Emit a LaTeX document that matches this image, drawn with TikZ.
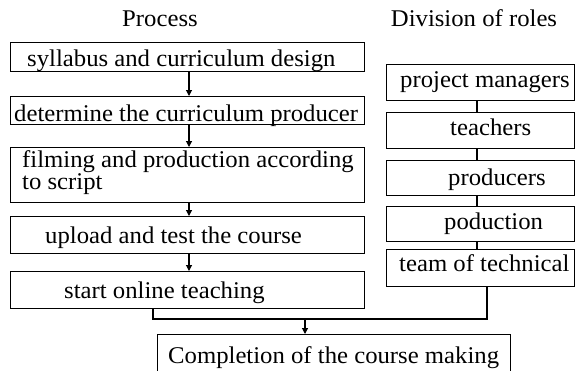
\documentclass[tikz,border=0pt]{standalone}
\usepackage{fontspec}
\setmainfont[FakeStretch=1.03]{Liberation Serif}
\usetikzlibrary{arrows.meta}
\tikzset{
  box/.style={draw, line width=1.1pt, rectangle, anchor=north west, inner sep=0pt},
  txt/.style={anchor=base west, inner sep=0pt, font=\fontsize{24}{22}\selectfont, align=left},
  ttl/.style={anchor=base, inner sep=0pt, font=\fontsize{24}{22}\selectfont},
  arr/.style={line width=1.1pt, -{Triangle[length=6pt,width=6pt]}},
  ln/.style={line width=1.1pt}
}
\begin{document}
\begin{tikzpicture}[x=1pt,y=-1pt]
\useasboundingbox (0,0) rectangle (577,370);
\clip (0,0) rectangle (577,370);
\fill[white] (0,0) rectangle (577,370);
% titles
\node[ttl] (tp) at (160,26.5) {Process};
\node[ttl] (tr) at (474,26.5) {Division of roles};
% process boxes
\node[box, minimum width=354pt, minimum height=29pt] (p1) at (10,42) {};
\node[box, minimum width=354pt, minimum height=28pt] (p2) at (10,96) {};
\node[box, minimum width=354pt, minimum height=55pt] (p3) at (10,147) {};
\node[box, minimum width=354pt, minimum height=37pt] (p4) at (10,216) {};
\node[box, minimum width=354pt, minimum height=37pt] (p5) at (10,271) {};
\node[txt] (t1) at (27,66) {syllabus and curriculum design};
\node[txt] (t2) at (14,121) {determine the curriculum producer};
\node[txt] (t3) at (22,189) {filming and production according\\to script};
\node[txt] (t4) at (45,243) {upload and test the course};
\node[txt] (t5) at (64,298) {start online teaching};
% roles boxes
\node[box, minimum width=188pt, minimum height=36pt] (r1) at (386,64) {};
\node[box, minimum width=188pt, minimum height=36pt] (r2) at (386,112) {};
\node[box, minimum width=188pt, minimum height=35pt] (r3) at (386,160) {};
\node[box, minimum width=188pt, minimum height=35pt] (r4) at (386,206) {};
\node[box, minimum width=188pt, minimum height=37pt] (r5) at (386,249) {};
\node[txt] (s1) at (400,87) {project managers};
\node[txt] (s2) at (450,135) {teachers};
\node[txt] (s3) at (448,185) {producers};
\node[txt] (s4) at (444,229) {poduction};
\node[txt] (s5) at (399,271) {team of technical};
% completion
\node[box, minimum width=353pt, minimum height=45pt] (c) at (157,334) {};
\node[txt] (tc) at (168,363) {Completion of the course making};
% helper coordinates
\coordinate (ax) at (189,0);
\coordinate (rx) at (477,0);
\coordinate (jl) at (153,319);
\coordinate (jr) at (487,319);
\coordinate (jm) at (305,319);
% process arrows
\draw[arr] (p1.south -| ax) -- (p2.north -| ax);
\draw[arr] (p2.south -| ax) -- (p3.north -| ax);
\draw[arr] (p3.south -| ax) -- (p4.north -| ax);
\draw[arr] (p4.south -| ax) -- (p5.north -| ax);
% roles connectors
\draw[ln] (r1.south -| rx) -- (r2.north -| rx);
\draw[ln] (r2.south -| rx) -- (r3.north -| rx);
\draw[ln] (r3.south -| rx) -- (r4.north -| rx);
\draw[ln] (r4.south -| rx) -- (r5.north -| rx);
% join
\draw[ln] (p5.south -| jl) -- (jl) -- (jr) -- (r5.south -| jr);
\draw[arr] (jm) -- (c.north -| jm);
\end{tikzpicture}
\end{document}
